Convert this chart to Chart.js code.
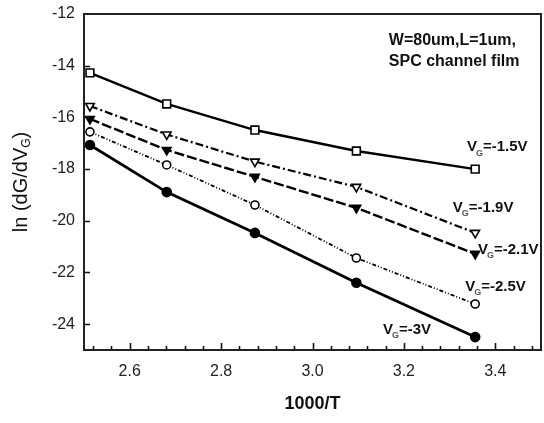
<!DOCTYPE html>
<html>
<head>
<meta charset="utf-8">
<script src="https://cdn.jsdelivr.net/npm/chart.js@4/dist/chart.umd.min.js"></script>
<style>
  html, body { margin: 0; padding: 0; background: #fff; }
  #wrap { width: 544px; height: 423px; }
</style>
</head>
<body>
<div id="wrap"><canvas id="chart"></canvas></div>
<script>
// 1000/T values (measurement temperatures)
const invTemp = [2.513, 2.681, 2.874, 3.096, 3.356];

// ln(dG/dVG) per gate voltage
const vg15 = [-14.28, -15.48, -16.49, -17.30, -18.00];
const vg19 = [-15.56, -16.66, -17.71, -18.69, -20.47];
const vg21 = [-16.06, -17.26, -18.30, -19.50, -21.28];
const vg25 = [-16.56, -17.84, -19.39, -21.44, -23.22];
const vg30 = [-17.07, -18.89, -20.47, -22.40, -24.50];

const seriesNames = ['-1.5V', '-1.9V', '-2.1V', '-2.5V', '-3V'];

// Axis ranges / tick spacing
const xRange = [2.5, 3.5];
const yRange = [-25, -12];
const xMinorStep = 0.04;
const xMajorStep = 0.2;
const yStep = 2;

const FONT = '"Liberation Sans", Arial, Helvetica, sans-serif';

function toPoints(ys) {
    return ys.map((v, i) => ({ x: invTemp[i], y: v }));
}

function isMajorX(v) {
    const k = v / xMajorStep;
    return Math.abs(k - Math.round(k)) < 1e-6 && v > xRange[0] + 1e-6;
}

// Text labels placed in data units
const curveLabels = [
    { main: 'V', sub: 'G', rest: '=-1.5V', x: 3.338, y: -17.15 },
    { main: 'V', sub: 'G', rest: '=-1.9V', x: 3.307, y: -19.50 },
    { main: 'V', sub: 'G', rest: '=-2.1V', x: 3.362, y: -21.13 },
    { main: 'V', sub: 'G', rest: '=-2.5V', x: 3.334, y: -22.56 },
    { main: 'V', sub: 'G', rest: '=-3V', x: 3.154, y: -24.22 }
];
const noteLines = [
    { text: 'W=80um,L=1um,', x: 3.167, y: -13.04 },
    { text: 'SPC channel film', x: 3.167, y: -13.86 }
];

// Draws the box frame, inward ticks, titles and text labels
const decorPlugin = {
    id: 'decor',
    afterDraw(chart) {
        const { ctx, chartArea: a, scales: { x, y } } = chart;
        ctx.save();
        ctx.strokeStyle = '#111';
        ctx.lineWidth = 1.6;

        // ticks
        ctx.beginPath();
        x.ticks.forEach(t => {
            const px = Math.round(x.getPixelForValue(t.value)) + 0.5;
            if (px <= a.left + 1 || px >= a.right - 1) return;
            const len = isMajorX(t.value) ? 7 : 4;
            ctx.moveTo(px, a.bottom);
            ctx.lineTo(px, a.bottom - len);
        });
        y.ticks.forEach(t => {
            if (Math.abs(t.value % yStep) > 1e-6) return;
            const py = Math.round(y.getPixelForValue(t.value)) + 0.5;
            if (py <= a.top + 1 || py >= a.bottom - 1) return;
            ctx.moveTo(a.left, py);
            ctx.lineTo(a.left + 6, py);
        });
        ctx.stroke();

        // frame
        ctx.lineWidth = 2;
        ctx.strokeStyle = '#222';
        ctx.strokeRect(a.left, a.top, a.right - a.left, a.bottom - a.top);

        ctx.fillStyle = '#111';
        ctx.textBaseline = 'middle';

        // x title
        ctx.font = 'bold 18px ' + FONT;
        ctx.textAlign = 'center';
        ctx.fillText('1000/T', (a.left + a.right) / 2, 404);

        // y title (rotated)
        ctx.save();
        ctx.translate(21, (a.top + a.bottom) / 2);
        ctx.rotate(-Math.PI / 2);
        const p1 = 'ln (dG/dV', p3 = ')';
        ctx.font = '20px ' + FONT;
        const w1 = ctx.measureText(p1).width;
        ctx.font = '12px ' + FONT;
        const w2 = ctx.measureText('G').width;
        ctx.font = '20px ' + FONT;
        const w3 = ctx.measureText(p3).width;
        let sx = -(w1 + w2 + w3) / 2;
        ctx.textAlign = 'left';
        ctx.fillText(p1, sx, 0);
        sx += w1;
        ctx.font = '12px ' + FONT;
        ctx.fillText('G', sx, 6);
        sx += w2;
        ctx.font = '20px ' + FONT;
        ctx.fillText(p3, sx, 0);
        ctx.restore();

        // note
        ctx.textAlign = 'left';
        ctx.font = 'bold 16px ' + FONT;
        noteLines.forEach(n => {
            ctx.fillText(n.text, x.getPixelForValue(n.x), y.getPixelForValue(n.y));
        });

        // curve labels
        curveLabels.forEach(l => {
            let px = x.getPixelForValue(l.x);
            const py = y.getPixelForValue(l.y);
            ctx.font = 'bold 15px ' + FONT;
            ctx.fillText(l.main, px, py);
            px += ctx.measureText(l.main).width - 1;
            ctx.font = 'bold 9px ' + FONT;
            ctx.fillStyle = '#555';
            ctx.fillText(l.sub, px, py + 6);
            ctx.fillStyle = '#111';
            px += ctx.measureText(l.sub).width;
            ctx.font = 'bold 15px ' + FONT;
            ctx.fillText(l.rest, px, py);
        });

        ctx.restore();
    }
};

const seriesStyles = [
    { data: vg15, dash: [], width: 2.4, style: 'rect', radius: 5.5, fill: '#fff', rot: 0 },
    { data: vg19, dash: [8, 3, 2, 3], width: 2.2, style: 'triangle', radius: 5, fill: '#fff', rot: 180 },
    { data: vg21, dash: [10, 3], width: 2.4, style: 'triangle', radius: 5, fill: '#000', rot: 180 },
    { data: vg25, dash: [4, 2, 1, 2, 1, 2], width: 1.8, style: 'circle', radius: 4, fill: '#fff', rot: 0 },
    { data: vg30, dash: [], width: 2.8, style: 'circle', radius: 4.5, fill: '#000', rot: 0 }
];

const datasets = seriesStyles.map((s, i) => ({
    label: 'VG=' + seriesNames[i],
    data: toPoints(s.data),
    borderColor: '#000',
    borderWidth: s.width,
    borderDash: s.dash,
    backgroundColor: s.fill,
    pointStyle: s.style,
    pointRadius: s.radius,
    pointRotation: s.rot,
    pointBorderWidth: 1.6,
    pointBorderColor: '#000',
    pointBackgroundColor: s.fill,
    showLine: true,
    tension: 0,
    clip: false
}));

// minor ticks every 0.04 on multiples of the step (so 2.6, 2.8 ... fall on ticks)
function buildXTicks(scale) {
    const ticks = [];
    const k0 = Math.ceil(xRange[0] / xMinorStep - 1e-9);
    const k1 = Math.floor(xRange[1] / xMinorStep + 1e-9);
    for (let k = k0; k <= k1; k++) {
        ticks.push({ value: Math.round(k * xMinorStep * 1000) / 1000 });
    }
    scale.ticks = ticks;
}

new Chart(document.getElementById('chart'), {
    type: 'scatter',
    data: { datasets },
    options: {
        responsive: true,
        maintainAspectRatio: false,
        animation: false,
        layout: { autoPadding: false, padding: { top: 14, right: 3, left: 0, bottom: 0 } },
        plugins: {
            legend: { display: false },
            tooltip: { enabled: false }
        },
        scales: {
            x: {
                type: 'linear',
                min: xRange[0],
                max: xRange[1],
                grid: { display: false, drawTicks: false },
                border: { display: false },
                afterBuildTicks: buildXTicks,
                afterFit: (scale) => {
                    scale.height = 73;
                    scale.paddingLeft = 0;
                    scale.paddingRight = 0;
                },
                ticks: {
                    autoSkip: false,
                    maxRotation: 0,
                    padding: 12,
                    color: '#222',
                    font: { family: FONT, size: 16 },
                    callback: (v) => isMajorX(v) ? v.toFixed(1) : ''
                }
            },
            y: {
                type: 'linear',
                min: yRange[0],
                max: yRange[1],
                grid: { display: false, drawTicks: false },
                border: { display: false },
                afterFit: (scale) => {
                    scale.width = 84;
                    scale.paddingTop = 0;
                    scale.paddingBottom = 0;
                },
                ticks: {
                    stepSize: yStep,
                    autoSkip: false,
                    padding: 9,
                    color: '#222',
                    font: { family: FONT, size: 16 },
                    callback: (v) => Math.abs(v % yStep) < 1e-6 ? String(v) : ''
                }
            }
        }
    },
    plugins: [decorPlugin]
});
</script>
</body>
</html>
